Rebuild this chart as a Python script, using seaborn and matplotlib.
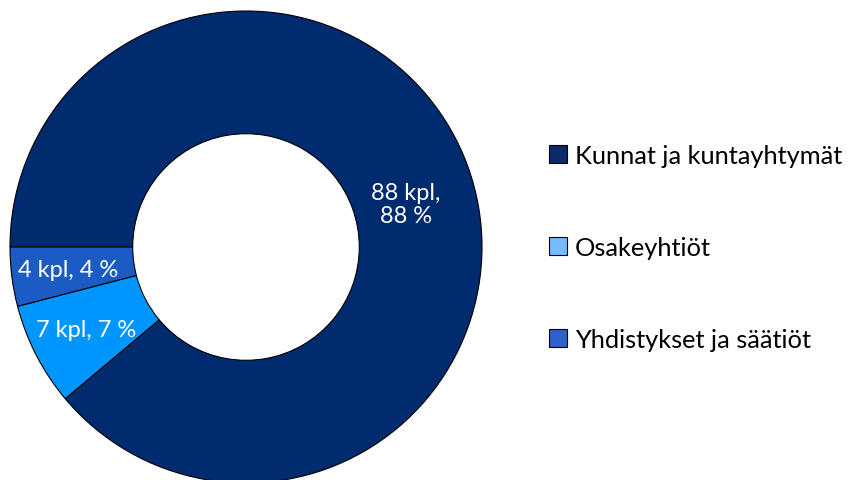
import numpy as np
import matplotlib.pyplot as plt
import seaborn as sns
from matplotlib.patches import Patch

sns.set_theme(style="white")
plt.rcParams['font.family'] = ['Lato', 'DejaVu Sans']

# data
categories = ['Kunnat ja kuntayhtymät', 'Osakeyhtiöt', 'Yhdistykset ja säätiöt']
counts = [88, 7, 4]
percents = [88, 7, 4]
slice_colors = ['#002b6e', '#0096ff', '#1a5bc4']
legend_colors = ['#0a2a6b', '#77bbff', '#2a64c8']

fig = plt.figure(figsize=(8.48, 4.81), dpi=100)
r_px = 236
cx, cy = 246, 481 - 248
ax = fig.add_axes([(cx - r_px) / 848, (cy - r_px) / 481, 2 * r_px / 848, 2 * r_px / 481])

wedges, _ = ax.pie(counts, colors=slice_colors, startangle=180, counterclock=False,
                   radius=1, wedgeprops=dict(width=0.52, edgecolor='black', linewidth=0.8))
ax.set_xlim(-1, 1)
ax.set_ylim(-1, 1)
ax.set_aspect('equal')
ax.axis('off')

# labels at mid-angle of each wedge
for i, w in enumerate(wedges):
    mid = np.deg2rad((w.theta1 + w.theta2) / 2)
    if i == 0:
        r, ang = 0.70, mid - np.deg2rad(5)
        txt = f'{counts[i]} kpl,\n{percents[i]} %'
    else:
        r, ang = 0.76, mid
        txt = f'{counts[i]} kpl, {percents[i]} %'
    ax.text(r * np.cos(ang), r * np.sin(ang), txt, color='white', fontsize=17,
            ha='center', va='center', linespacing=1.1)

handles = [Patch(facecolor=c, edgecolor='black', linewidth=0.8) for c in legend_colors]
fig.legend(handles, categories, loc='center left', bbox_to_anchor=(526 / 848, 0.483),
           frameon=False, fontsize=18.3, labelcolor='black', handlelength=0.72,
           handleheight=0.72, handletextpad=0.3, labelspacing=2.72)

fig.savefig('out.png', dpi=100)
